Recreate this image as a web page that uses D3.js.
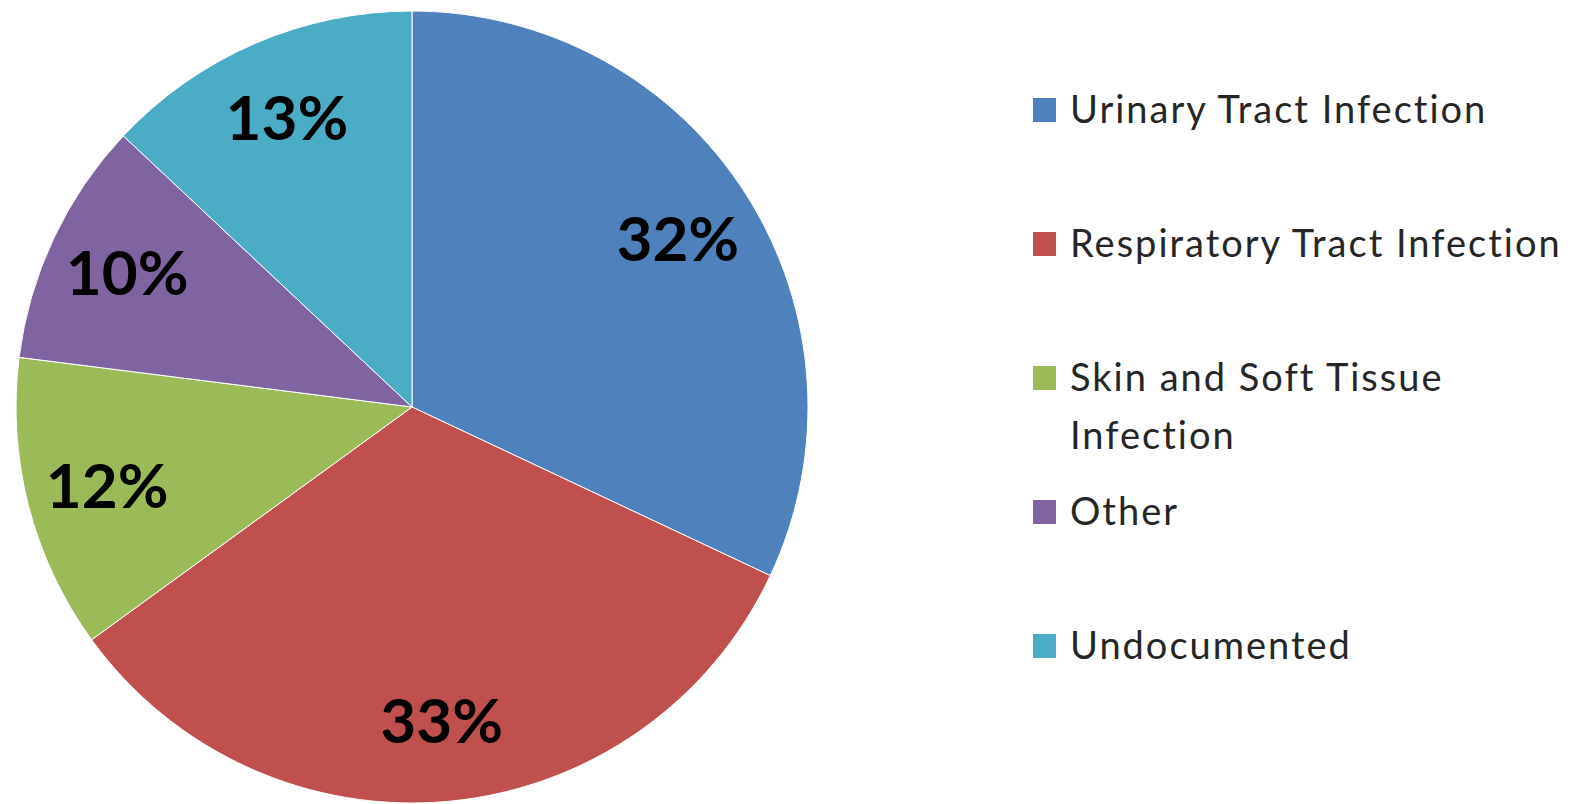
<!DOCTYPE html>
<html>
<head>
<meta charset="utf-8">
<script src="https://cdn.jsdelivr.net/npm/d3@7/dist/d3.min.js"></script>
<style>
  html, body { margin: 0; padding: 0; background: #fff; }
  svg { display: block; }
</style>
</head>
<body>
<svg id="chart" width="1580" height="804"></svg>
<script>
// Infection categories and their share (percent)
const categories = [
  "Urinary Tract Infection",
  "Respiratory Tract Infection",
  "Skin and Soft Tissue Infection",
  "Other",
  "Undocumented"
];
const values = [32, 33, 12, 10, 13];
const colors = ["#4F81BD", "#C0504D", "#9BBB59", "#8064A2", "#4BACC6"];
// Legend lines (long names wrap onto two lines)
const legendLines = [
  ["Urinary Tract Infection"],
  ["Respiratory Tract Infection"],
  ["Skin and Soft Tissue", "Infection"],
  ["Other"],
  ["Undocumented"]
];

const svg = d3.select("#chart");
const cx = 412, cy = 407, radius = 396;

const data = categories.map((c, i) => ({ name: c, value: values[i], color: colors[i] }));

const pie = d3.pie().value(d => d.value).sort(null);
const arc = d3.arc().innerRadius(0).outerRadius(radius);
const labelArc = d3.arc().innerRadius(radius * 0.795).outerRadius(radius * 0.795);

const g = svg.append("g").attr("transform", `translate(${cx},${cy})`);
const arcs = pie(data);

g.selectAll("path.slice")
  .data(arcs)
  .join("path")
  .attr("class", "slice")
  .attr("d", arc)
  .attr("fill", d => d.data.color)
  .attr("stroke", "#ffffff")
  .attr("stroke-width", 1);

const total = d3.sum(values);
g.selectAll("text.pct")
  .data(arcs)
  .join("text")
  .attr("class", "pct")
  .attr("transform", d => `translate(${labelArc.centroid(d)})`)
  .attr("text-anchor", "middle")
  .attr("dy", "0.36em")
  .attr("font-family", "Lato, 'Open Sans', sans-serif")
  .attr("font-weight", "bold")
  .attr("font-size", 62)
  .attr("fill", "#000")
  .text(d => Math.round(d.data.value / total * 100) + "%");

// Legend
const legendX = 1033, legendY0 = 123, rowStep = 134, lineStep = 58;
const legend = svg.append("g");
data.forEach((d, i) => {
  const y = legendY0 + i * rowStep;
  legend.append("rect")
    .attr("x", legendX)
    .attr("y", y - 25)
    .attr("width", 23)
    .attr("height", 24)
    .attr("fill", d.color);
  const t = legend.append("text")
    .attr("x", legendX + 37)
    .attr("y", y)
    .attr("font-family", "Lato, 'Open Sans', sans-serif")
    .attr("font-size", 38)
    .attr("letter-spacing", 2)
    .attr("fill", "#262626");
  legendLines[i].forEach((line, j) => {
    t.append("tspan").attr("x", legendX + 37).attr("y", y + j * lineStep).text(line);
  });
});
</script>
</body>
</html>
